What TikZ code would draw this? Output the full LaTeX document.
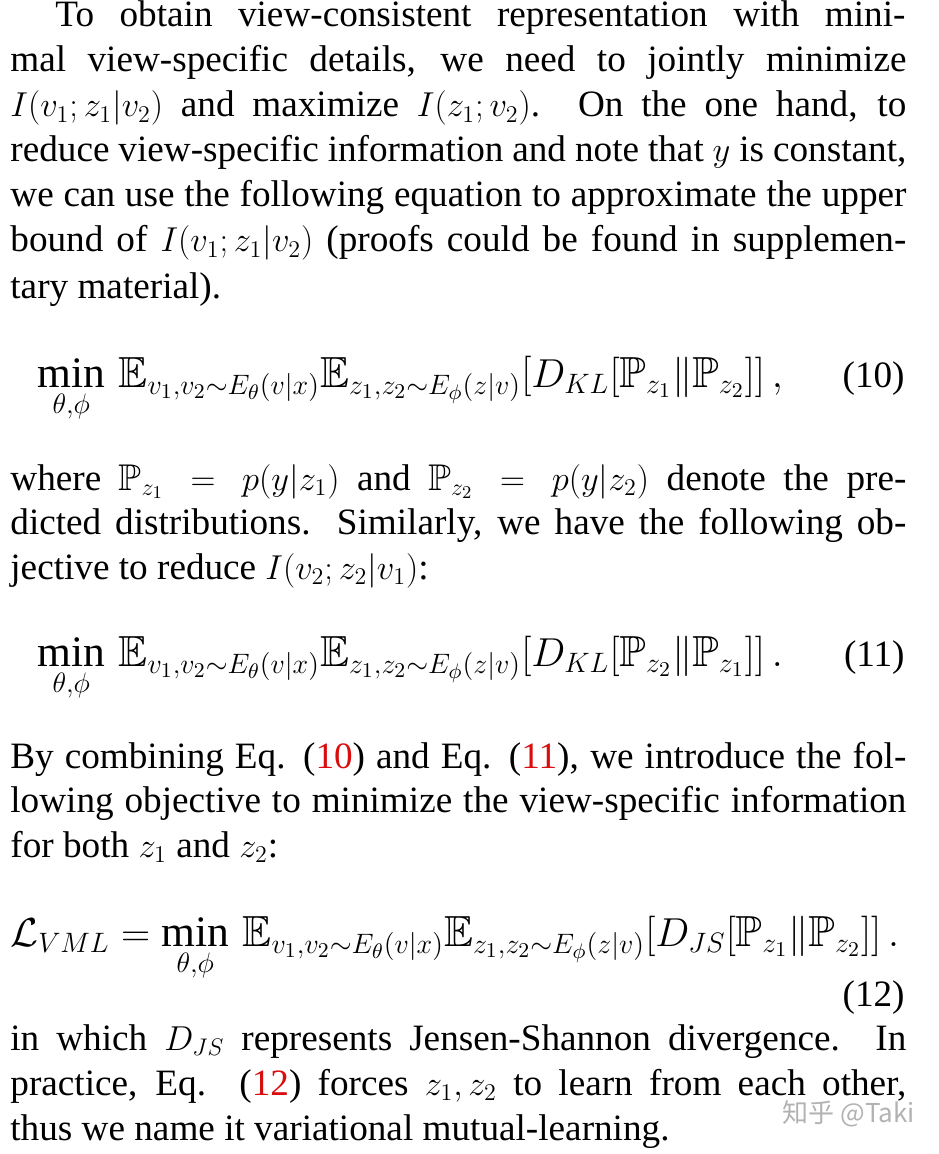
\documentclass[tikz,border=0pt]{standalone}
\usepackage{amssymb}
\usepackage{graphicx}
\usepackage{fontspec}
\setmainfont{Liberation Serif}
\newfontfamily\cjk{Noto Sans CJK SC}
\definecolor{refred}{rgb}{0.85,0.05,0.05}
\newcommand{\rf}[1]{(\textcolor{refred}{#1})}
\newcommand{\EqS}[1]{\scalebox{1.17}{#1}}
\begin{document}
\begin{tikzpicture}[x=0.5pt,y=-0.5pt,
  txt/.style={anchor=base west,inner sep=0pt,font=\fontsize{18.6}{22.5}\selectfont},
  num/.style={anchor=base east,inner sep=0pt,font=\fontsize{18.6}{22.5}\selectfont}]
\useasboundingbox (0,0) rectangle (938,1154);
\newcommand{\J}[1]{\makebox[448pt][s]{#1}}
\newcommand{\Ji}[1]{\makebox[425pt][s]{#1}}
\node[txt] (l1) at (55,27) {\Ji{To obtain view-consistent representation with mini-}};
\node[txt] (l2) at (10,72) {\J{mal view-specific details, we need to jointly minimize}};
\node[txt] (l3) at (10,117) {\J{$I(v_1;z_1|v_2)$ and maximize $I(z_1;v_2)$. On the one hand, to}};
\node[txt] (l4) at (10,162) {\J{reduce view-specific information and note that $y$ is constant,}};
\node[txt] (l5) at (10,207) {\J{we can use the following equation to approximate the upper}};
\node[txt] (l6) at (10,252) {\J{bound of $I(v_1;z_1|v_2)$ (proofs could be found in supplemen-}};
\node[txt] (l7) at (10,299) {tary material).};
\node[txt] (e10) at (37,387) {\EqS{$\displaystyle\min_{\theta,\phi}\,\mathbb{E}_{v_1,v_2\sim E_\theta(v|x)}\mathbb{E}_{z_1,z_2\sim E_\phi(z|v)}\bigl[D_{KL}[\mathbb{P}_{z_1}\|\mathbb{P}_{z_2}]\bigr]\,,$}};
\node[num] (n10) at (905,387) {(10)};
\node[txt] (l8) at (10,490) {\J{where $\mathbb{P}_{z_1}=p(y|z_1)$ and $\mathbb{P}_{z_2}=p(y|z_2)$ denote the pre-}};
\node[txt] (l9) at (10,534) {\J{dicted distributions. Similarly, we have the following ob-}};
\node[txt] (l10) at (10,579) {jective to reduce $I(v_2;z_2|v_1)$:};
\node[txt] (e11) at (37,666) {\EqS{$\displaystyle\min_{\theta,\phi}\,\mathbb{E}_{v_1,v_2\sim E_\theta(v|x)}\mathbb{E}_{z_1,z_2\sim E_\phi(z|v)}\bigl[D_{KL}[\mathbb{P}_{z_2}\|\mathbb{P}_{z_1}]\bigr]\,.$}};
\node[num] (n11) at (905,666) {(11)};
\node[txt] (l11) at (10,768) {\J{By combining Eq. \rf{10} and Eq. \rf{11}, we introduce the fol-}};
\node[txt] (l12) at (10,812) {\J{lowing objective to minimize the view-specific information}};
\node[txt] (l13) at (10,857) {for both $z_1$ and $z_2$:};
\node[txt] (e12) at (10,946) {\EqS{$\displaystyle\mathcal{L}_{VML}=\min_{\theta,\phi}\,\mathbb{E}_{v_1,v_2\sim E_\theta(v|x)}\mathbb{E}_{z_1,z_2\sim E_\phi(z|v)}\bigl[D_{JS}[\mathbb{P}_{z_1}\|\mathbb{P}_{z_2}]\bigr]\,.$}};
\node[num] (n12) at (905,1006) {(12)};
\node[txt] (l14) at (10,1050) {\J{in which $D_{JS}$ represents Jensen-Shannon divergence. In}};
\node[txt] (l15) at (10,1095) {\J{practice, Eq. \rf{12} forces $z_1,z_2$ to learn from each other,}};
\node[txt] (l16) at (10,1140) {thus we name it variational mutual-learning.};
\node[anchor=base east,inner sep=0pt,text=gray!60,font=\cjk\fontsize{13}{15}\selectfont] (wm) at (915,1122) {知乎 @Taki};
\end{tikzpicture}
\end{document}
